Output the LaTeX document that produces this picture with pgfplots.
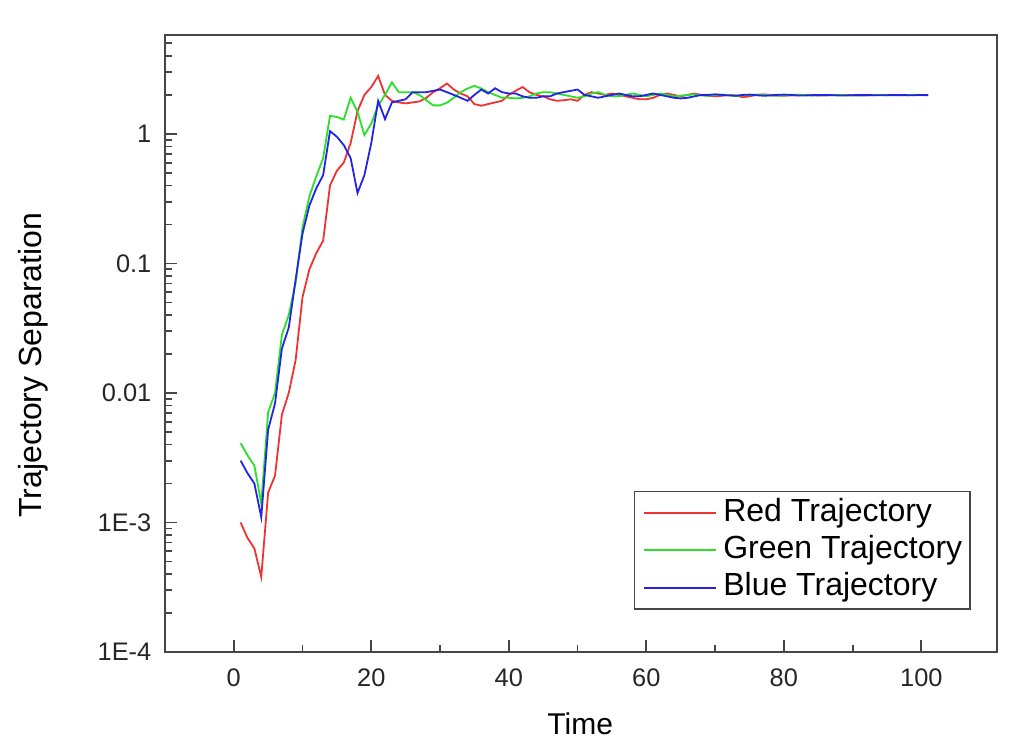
\documentclass[border=0pt]{standalone}
\usepackage{pgfplots}
\pgfplotsset{compat=1.18}
\usepackage{pgfplotstable}
\usepackage{fontspec}
\setmainfont{Liberation Sans}
\usetikzlibrary{calc}
\definecolor{cred}{RGB}{240,50,50}
\definecolor{cgreen}{RGB}{40,225,40}
\definecolor{cblue}{RGB}{35,35,230}
\definecolor{axgray}{RGB}{70,70,70}

\pgfplotstableread{
t r g b
1 0.0010 0.0041 0.0030
2 0.00076 0.0033 0.0024
3 0.00063 0.00275 0.0020
4 0.00038 0.0014 0.0011
5 0.0017 0.0071 0.0052
6 0.0023 0.010 0.0083
7 0.0068 0.028 0.022
8 0.010 0.040 0.032
9 0.018 0.071 0.075
10 0.055 0.19 0.17
11 0.090 0.33 0.28
12 0.12 0.47 0.38
13 0.15 0.65 0.48
14 0.40 1.38 1.05
15 0.52 1.35 0.95
16 0.60 1.29 0.82
17 0.85 1.9 0.65
18 1.5 1.48 0.35
19 2.0 0.98 0.48
20 2.3 1.2 0.85
21 2.8 1.66 1.8
22 2.0 2.0 1.3
23 1.8 2.5 1.75
24 1.75 2.1 1.8
25 1.72 2.1 1.85
26 1.75 2.1 2.1
27 1.78 2.0 2.1
28 1.9 1.82 2.1
29 2.1 1.66 2.15
30 2.25 1.66 2.2
31 2.45 1.74 2.1
32 2.2 1.9 2.0
33 2.05 2.1 1.9
34 1.95 2.24 1.8
35 1.7 2.35 2.0
36 1.65 2.24 2.2
37 1.7 2.1 2.05
38 1.75 2.0 2.25
39 1.8 1.9 2.1
40 2.0 1.9 2.05
41 2.15 1.88 2.05
42 2.3 1.9 1.95
43 2.1 1.95 1.9
44 2.0 2.05 1.9
45 1.95 2.1 1.95
46 1.85 2.1 1.95
47 1.8 2.05 2.05
48 1.82 2.0 2.1
49 1.85 1.95 2.15
50 1.8 1.9 2.2
51 2.0 1.95 2.0
52 2.1 2.05 1.95
53 2.05 2.1 1.9
54 2.0 2.0 1.95
55 2.05 1.95 2.0
56 2.0 1.95 2.05
57 1.95 2.0 2.0
58 1.9 2.05 1.95
59 1.85 2.0 1.95
60 1.85 1.95 2.0
61 1.9 2.0 2.05
62 2.0 2.05 2.0
63 2.05 2.0 1.95
64 2.0 1.95 1.9
65 1.95 1.97 1.88
66 2.0 2.0 1.9
67 2.05 2.02 1.95
68 2.0 1.98 2.0
69 1.97 1.97 2.0
70 1.95 2.0 2.02
71 1.97 2.01 2.0
72 2.0 1.99 1.98
73 1.98 1.97 1.97
74 1.92 1.98 2.0
75 1.95 2.0 2.01
76 2.0 2.01 1.99
77 2.02 2.0 1.97
78 2.0 1.98 1.98
79 1.98 1.97 2.0
80 1.97 1.98 2.01
81 1.98 2.0 2.0
82 1.99 2.01 1.98
83 2.0 2.0 1.98
84 1.99 1.98 1.99
85 1.98 1.98 2.0
86 1.98 1.99 2.0
87 1.99 2.0 1.99
88 2.0 2.0 1.98
89 2.0 1.99 1.98
90 1.99 1.98 1.99
91 1.98 1.98 2.0
92 1.98 1.99 2.0
93 1.99 2.0 1.99
94 2.0 2.0 1.99
95 2.0 1.99 1.99
96 1.99 1.99 2.0
97 1.99 1.99 2.0
98 1.99 2.0 1.99
99 2.0 2.0 1.99
100 2.0 1.99 2.0
101 1.99 1.99 2.0
}\datatable

\begin{document}
\begin{tikzpicture}
\begin{axis}[
  scale only axis,
  width=416pt, height=308.5pt,
  xmin=-10, xmax=111,
  ymode=log, ymin=1e-4, ymax=5.8,
  xtick={0,20,40,60,80,100},
  minor xtick={10,30,50,70,90},
  ytick={1e-4,1e-3,0.01,0.1,1},
  yticklabels={1E-4,1E-3,0.01,0.1,1},
  minor ytick={2e-4,3e-4,4e-4,5e-4,6e-4,7e-4,8e-4,9e-4,
               2e-3,3e-3,4e-3,5e-3,6e-3,7e-3,8e-3,9e-3,
               0.02,0.03,0.04,0.05,0.06,0.07,0.08,0.09,
               0.2,0.3,0.4,0.5,0.6,0.7,0.8,0.9,2,3,4,5},
  tick pos=left, tick align=inside,
  major tick length=6pt, minor tick length=3.5pt,
  every tick/.style={axgray, line width=0.9pt},
  axis line style={axgray, line width=1.2pt},
  /pgf/number format/assume math mode=true,
  tick label style={font=\fontsize{12.7}{14}\selectfont, text=black!85},
  xticklabel style={yshift=-4.6pt},
  yticklabel style={xshift=-3.3pt},
  xlabel={Time}, ylabel={Trajectory Separation},
  xlabel style={font=\fontsize{15}{17}\selectfont, at={(axis description cs:0.499,-0.1167)}, anchor=center},
  ylabel style={font=\fontsize{16}{18}\selectfont, at={(axis description cs:-0.1587,0.465)}, anchor=center},
  legend cell align=left,
  legend style={at={(axis description cs:0.9688,0.068)}, anchor=south east,
    draw=axgray, line width=0.8pt, font=\fontsize{16}{18}\selectfont,
    row sep=0pt, inner sep=1.5pt,
    nodes={inner sep=2.5pt, text height=10.8pt, text depth=2.8pt}},
  legend image code/.code={\path[draw=none] (-3.5pt,0pt) -- (37pt,0pt); \draw[#1, line width=1pt] (0pt,0pt) -- (36pt,0pt);},
]
\addplot[cred, line width=0.9pt] table[x=t, y=r] {\datatable};
\addlegendentry{Red Trajectory}
\addplot[cgreen, line width=0.9pt] table[x=t, y=g] {\datatable};
\addlegendentry{Green Trajectory}
\addplot[cblue, line width=0.9pt] table[x=t, y=b] {\datatable};
\addlegendentry{Blue Trajectory}
\end{axis}
\path[use as bounding box] ($(current axis.south west)+(-82.5pt,-49.5pt)$) rectangle ($(current axis.north east)+(8pt,17.5pt)$);
\end{tikzpicture}
\end{document}
